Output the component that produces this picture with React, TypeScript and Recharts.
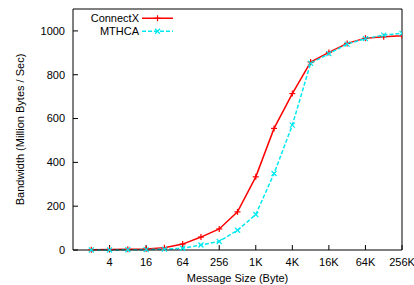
import React from 'react';
import { LineChart, Line, XAxis, YAxis, Legend } from 'recharts';

const sizes = [2, 4, 8, 16, 32, 64, 128, 256, 512, 1024, 2048, 4096, 8192, 16384, 32768, 65536, 131072, 262144];
const connectX = [1, 2, 3, 5, 10, 27, 59, 96, 174, 334, 555, 714, 858, 902, 943, 967, 973, 978];
const mthca = [0, 0, 1, 2, 4, 8, 23, 39, 90, 162, 349, 570, 852, 896, 940, 965, 981, 989];
const xTicks = [4, 16, 64, 256, 1024, 4096, 16384, 65536, 262144];
const yTicks = [0, 200, 400, 600, 800, 1000];

const data = sizes.map((s, i) => ({ size: s, connectX: connectX[i], mthca: mthca[i] }));

const FONT = '"Liberation Sans", Arial, Helvetica, sans-serif';

const fmtSize = (v: number) => (v >= 1024 ? `${v / 1024}K` : `${v}`);

const PlusDot = (props: any) => {
  const { cx, cy } = props;
  if (cx == null || cy == null) return null;
  return (
    <g stroke="#ff0000" strokeWidth={1.2}>
      <line x1={cx - 3} y1={cy} x2={cx + 3} y2={cy} />
      <line x1={cx} y1={cy - 3} x2={cx} y2={cy + 3} />
    </g>
  );
};

const CrossDot = (props: any) => {
  const { cx, cy } = props;
  if (cx == null || cy == null) return null;
  return (
    <g stroke="#00e8f0" strokeWidth={1.2}>
      <line x1={cx - 2.5} y1={cy - 2.5} x2={cx + 2.5} y2={cy + 2.5} />
      <line x1={cx - 2.5} y1={cy + 2.5} x2={cx + 2.5} y2={cy - 2.5} />
    </g>
  );
};

const renderLegend = () => {
  const rows = [
    { name: 'ConnectX', color: '#ff0000', dash: undefined as string | undefined, Dot: PlusDot },
    { name: 'MTHCA', color: '#00e8f0', dash: '4 2', Dot: CrossDot },
  ];
  return (
    <div style={{ fontFamily: FONT, fontSize: 11, color: '#000' }}>
      {rows.map((r) => (
        <div key={r.name} style={{ display: 'flex', alignItems: 'center', height: 12.5 }}>
          <span style={{ width: 59, textAlign: 'right', lineHeight: '12.5px' }}>{r.name}</span>
          <svg width={34} height={12.5} style={{ marginLeft: 3 }}>
            <line x1={0} y1={6.25} x2={31} y2={6.25} stroke={r.color} strokeWidth={1.5} strokeDasharray={r.dash} />
            <r.Dot cx={15.5} cy={6.25} />
          </svg>
        </div>
      ))}
    </div>
  );
};

export default function App() {
  return (
    <div style={{ position: 'absolute', left: 0, top: 0, width: 414, height: 285, background: '#fff' }}>
      <LineChart
        width={414}
        height={285}
        data={data}
        margin={{ top: 8, right: 11, bottom: 0, left: 0 }}
        style={{ fontFamily: FONT }}
      >
        <XAxis
          dataKey="size"
          type="number"
          scale="log"
          domain={[1, 262144]}
          allowDataOverflow
          ticks={xTicks}
          tickFormatter={fmtSize}
          interval={0}
          height={35}
          tickSize={-5}
          tickMargin={13}
          stroke="#000"
          tick={{ fill: '#000', fontSize: 11, fontFamily: FONT }}
          label={{ value: 'Message Size (Byte)', position: 'insideBottom', offset: 3.5, fill: '#000', fontSize: 11, fontFamily: FONT }}
        />
        <XAxis
          xAxisId="top"
          orientation="top"
          dataKey="size"
          type="number"
          scale="log"
          domain={[1, 262144]}
          allowDataOverflow
          ticks={xTicks}
          interval={0}
          height={1}
          tickSize={-5}
          tick={false}
          stroke="#000"
        />
        <YAxis
          type="number"
          domain={[0, 1100]}
          ticks={yTicks}
          interval={0}
          width={73}
          tickSize={-5}
          tickMargin={13}
          stroke="#000"
          tick={{ fill: '#000', fontSize: 11, fontFamily: FONT }}
          label={{ value: 'Bandwidth (Million Bytes / Sec)', angle: -90, position: 'center', dx: -16, fill: '#000', fontSize: 11, fontFamily: FONT }}
        />
        <YAxis
          yAxisId="right"
          orientation="right"
          type="number"
          domain={[0, 1100]}
          ticks={yTicks}
          interval={0}
          width={1}
          tickSize={-5}
          tick={false}
          stroke="#000"
        />
        <Legend
          content={renderLegend}
          layout="horizontal"
          verticalAlign="middle"
          align="center"
          wrapperStyle={{ position: 'absolute', left: 80, top: 12, width: 120, height: 25 }}
        />
        <Line
          dataKey="connectX"
          name="ConnectX"
          stroke="#ff0000"
          strokeWidth={1.5}
          dot={<PlusDot />}
          activeDot={false}
          isAnimationActive={false}
        />
        <Line
          dataKey="mthca"
          name="MTHCA"
          stroke="#00e8f0"
          strokeWidth={1.5}
          strokeDasharray="4 2"
          dot={<CrossDot />}
          activeDot={false}
          isAnimationActive={false}
        />
      </LineChart>
    </div>
  );
}
